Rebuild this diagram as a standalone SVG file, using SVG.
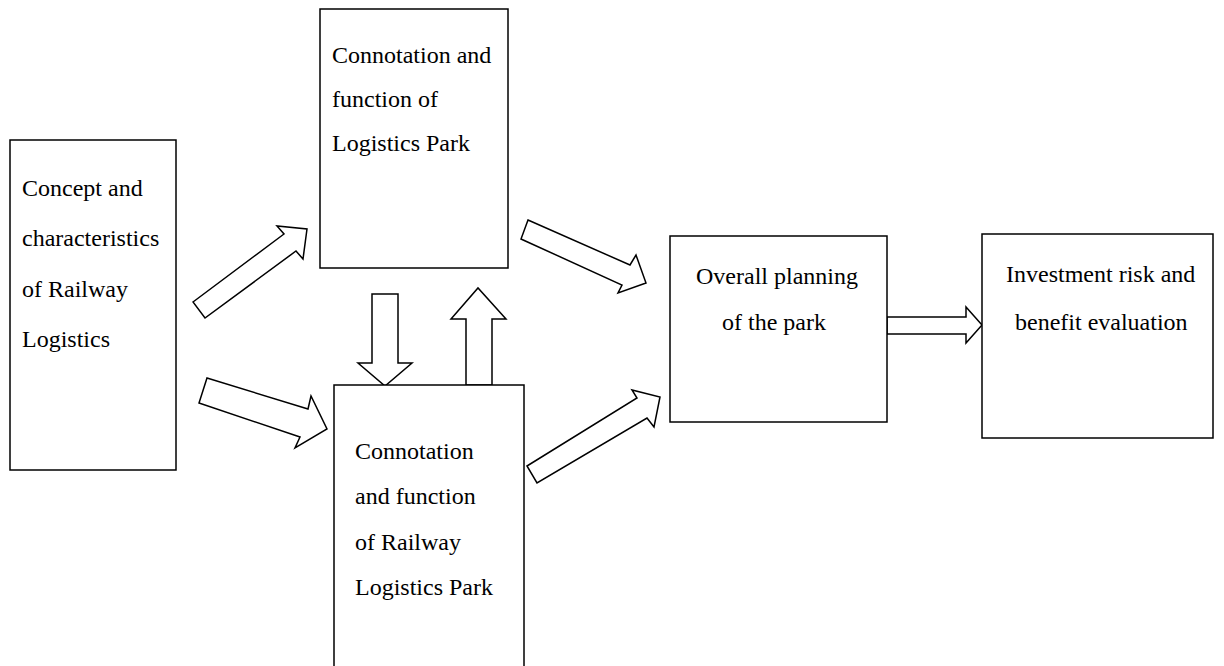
<svg xmlns="http://www.w3.org/2000/svg" width="1224" height="666" viewBox="0 0 1224 666">
  <style>
    .box { fill: #fff; stroke: #000; stroke-width: 1.5; }
    .arrow { fill: #fff; stroke: #000; stroke-width: 1.5; stroke-linejoin: miter; }
    .lbl { font-family: "Liberation Serif", "Times New Roman", serif; font-size: 24px; fill: #000; }
  </style>
  <rect width="1224" height="666" fill="#fff"/>

  <g id="connectors">
    <!-- box 1 to box 2 -->
    <polygon class="arrow" points="193,302 284,234 277,226 307,229 303,259 296,251 205,318"/>
    <!-- box 1 to box 3 -->
    <polygon class="arrow" points="207,378 308,409 311,396 327,429 295,448 300,437 199,403"/>
    <!-- box 2 down to box 3 -->
    <polygon class="arrow" points="372,294 398,294 398,363 412,363 385,386 358,363 372,363"/>
    <!-- box 3 up to box 2 -->
    <polygon class="arrow" points="466,385 466,319 451,319 478,288 506,319 492,319 492,385"/>
    <!-- box 2 to box 4 -->
    <polygon class="arrow" points="528,220 630,265 636,255 646,283 618,293 622,285 521,239"/>
    <!-- box 3 to box 4 -->
    <polygon class="arrow" points="527,466 637,398 632,390 660,397 654,427 647,418 537,483"/>
    <!-- box 4 to box 5 -->
    <polygon class="arrow" points="887,317 966,317 966,307 982,325 966,343 966,334 887,334"/>
  </g>

  <g id="node-railway-logistics">
    <rect class="box" x="10" y="140" width="166" height="330"/>
    <text class="lbl" x="22" y="196">Concept and</text>
    <text class="lbl" x="22" y="246">characteristics</text>
    <text class="lbl" x="22" y="297">of Railway</text>
    <text class="lbl" x="22" y="347">Logistics</text>
  </g>

  <g id="node-logistics-park">
    <rect class="box" x="320" y="9" width="188" height="259"/>
    <text class="lbl" x="332" y="63">Connotation and</text>
    <text class="lbl" x="332" y="107">function of</text>
    <text class="lbl" x="332" y="151">Logistics Park</text>
  </g>

  <g id="node-railway-park">
    <rect class="box" x="334" y="385" width="190" height="300"/>
    <text class="lbl" x="355" y="459">Connotation</text>
    <text class="lbl" x="355" y="504">and function</text>
    <text class="lbl" x="355" y="550">of Railway</text>
    <text class="lbl" x="355" y="595">Logistics Park</text>
  </g>

  <g id="node-overall-planning">
    <rect class="box" x="670" y="236" width="217" height="186"/>
    <text class="lbl" x="696" y="284">Overall planning</text>
    <text class="lbl" x="722" y="330">of the park</text>
  </g>

  <g id="node-investment">
    <rect class="box" x="982" y="234" width="231" height="204"/>
    <text class="lbl" x="1006" y="282">Investment risk and</text>
    <text class="lbl" x="1015" y="330">benefit evaluation</text>
  </g>
</svg>
